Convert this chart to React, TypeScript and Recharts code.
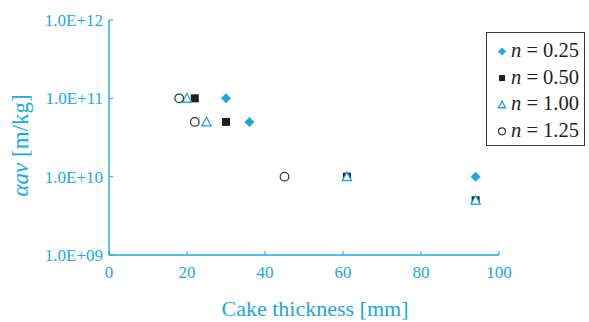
import React from 'react';
import { ScatterChart, Scatter, XAxis, YAxis, Legend } from 'recharts';

const BLUE = '#1aa8e2';
const INK = '#231f20';
const FONT = '"Liberation Serif", "Times New Roman", serif';

// Axis ticks
const xTicks = [0, 20, 40, 60, 80, 100];
const yTicks = [1e9, 1e10, 1e11, 1e12];
const yTickLabels = ['1.0E+09', '1.0E+10', '1.0E+11', '1.0E+12'];

// Cake thickness [mm] and specific cake resistance [m/kg] for each compressibility index n
const thicknessN025 = [30, 36, 94];
const alphaN025 = [1e11, 5e10, 1e10];

const thicknessN050 = [22, 30, 61, 94];
const alphaN050 = [1e11, 5e10, 1e10, 5e9];

const thicknessN100 = [20, 25, 61, 94];
const alphaN100 = [1e11, 5e10, 1e10, 5e9];

const thicknessN125 = [18, 22, 45];
const alphaN125 = [1e11, 5e10, 1e10];

const seriesLabels = ['0.25', '0.50', '1.00', '1.25'];

const toPoints = (xs: number[], ys: number[]) => xs.map((x, i) => ({ x, y: ys[i] }));

type MarkProps = { cx?: number; cy?: number; r?: number };

const DiamondMark = ({ cx = 0, cy = 0, r = 5 }: MarkProps) => (
  <polygon points={`${cx},${cy - r} ${cx + r},${cy} ${cx},${cy + r} ${cx - r},${cy}`} fill={BLUE} />
);

const SquareMark = ({ cx = 0, cy = 0, r = 4 }: MarkProps) => (
  <rect x={cx - r} y={cy - r} width={2 * r} height={2 * r} fill={INK} />
);

const TriangleMark = ({ cx = 0, cy = 0, r = 4.5 }: MarkProps) => (
  <polygon
    points={`${cx},${cy - r} ${cx + r},${cy + r * 0.85} ${cx - r},${cy + r * 0.85}`}
    fill="#ffffff"
    stroke={BLUE}
    strokeWidth={1.3}
    strokeLinejoin="miter"
  />
);

const CircleMark = ({ cx = 0, cy = 0, r = 4.3 }: MarkProps) => (
  <circle cx={cx} cy={cy} r={r} fill="#ffffff" stroke="#333333" strokeWidth={1.2} />
);

const markers = [DiamondMark, SquareMark, TriangleMark, CircleMark];
const legendMarkSize = [4, 3, 3.6, 3.5];

const LegendBox = () => (
  <svg width={100} height={116} style={{ display: 'block', overflow: 'visible' }}>
    <rect x={0.5} y={0.5} width={98} height={113} fill="#ffffff" stroke="#3a3a3a" strokeWidth={1} />
    {seriesLabels.map((label, i) => {
      const Mark = markers[i];
      const cy = 19.5 + 26.6 * i;
      return (
        <g key={label}>
          <Mark cx={16} cy={cy} r={legendMarkSize[i]} />
          <text x={25} y={cy + 5.6} fontSize={20.5} fontFamily={FONT} fill={INK}>
            <tspan fontStyle="italic">n</tspan> = {label}
          </text>
        </g>
      );
    })}
  </svg>
);

export default function App() {
  return (
    <div>
      <style>{`body{margin:0;overflow:hidden;}`}</style>
      <ScatterChart width={589} height={322} margin={{ top: 20, right: 90, bottom: 0, left: 0 }}>
        <XAxis
          type="number"
          dataKey="x"
          domain={[0, 100]}
          ticks={xTicks}
          interval={0}
          allowDataOverflow
          height={67}
          stroke={BLUE}
          axisLine={{ stroke: BLUE, strokeWidth: 1.4 }}
          tickLine={{ stroke: BLUE, strokeWidth: 1 }}
          tickSize={-4}
          tickMargin={15}
          tick={{ fill: BLUE, fontSize: 17, fontFamily: FONT }}
          label={{
            content: ({ viewBox }: any) => (
              <text
                x={viewBox.x + viewBox.width / 2 + 11}
                y={316}
                textAnchor="middle"
                fontSize={22}
                fontFamily={FONT}
                fill={BLUE}
              >
                Cake thickness [mm]
              </text>
            ),
          }}
        />
        <YAxis
          type="number"
          dataKey="y"
          scale="log"
          domain={[1e9, 1e12]}
          ticks={yTicks}
          interval={0}
          allowDataOverflow
          width={109}
          stroke={BLUE}
          axisLine={{ stroke: BLUE, strokeWidth: 1.4 }}
          tickLine={{ stroke: BLUE, strokeWidth: 1 }}
          tickSize={-4}
          tickMargin={10}
          tick={{ fill: BLUE, fontSize: 17, fontFamily: FONT }}
          tickFormatter={(v: number) => yTickLabels[yTicks.indexOf(v)] ?? ''}
          label={{
            content: ({ viewBox }: any) => {
              const cy = viewBox.y + viewBox.height / 2 + 8;
              return (
                <text
                  transform={`translate(28, ${cy}) rotate(-90)`}
                  textAnchor="middle"
                  fontSize={23}
                  fontFamily={FONT}
                  fill={BLUE}
                >
                  <tspan fontStyle="italic">αav</tspan> [m/kg]
                </text>
              );
            },
          }}
        />
        <Legend
          layout="vertical"
          align="center"
          verticalAlign="middle"
          content={() => <LegendBox />}
          wrapperStyle={{ left: 486, top: 32, width: 100, height: 116 }}
        />
        <Scatter
          name="n = 0.25"
          data={toPoints(thicknessN025, alphaN025)}
          shape={(p: any) => <DiamondMark cx={p.cx} cy={p.cy} r={5} />}
          isAnimationActive={false}
        />
        <Scatter
          name="n = 0.50"
          data={toPoints(thicknessN050, alphaN050)}
          shape={(p: any) => <SquareMark cx={p.cx} cy={p.cy} r={4} />}
          isAnimationActive={false}
        />
        <Scatter
          name="n = 1.00"
          data={toPoints(thicknessN100, alphaN100)}
          shape={(p: any) => <TriangleMark cx={p.cx} cy={p.cy} r={4.6} />}
          isAnimationActive={false}
        />
        <Scatter
          name="n = 1.25"
          data={toPoints(thicknessN125, alphaN125)}
          shape={(p: any) => <CircleMark cx={p.cx} cy={p.cy} r={4.3} />}
          isAnimationActive={false}
        />
      </ScatterChart>
    </div>
  );
}
